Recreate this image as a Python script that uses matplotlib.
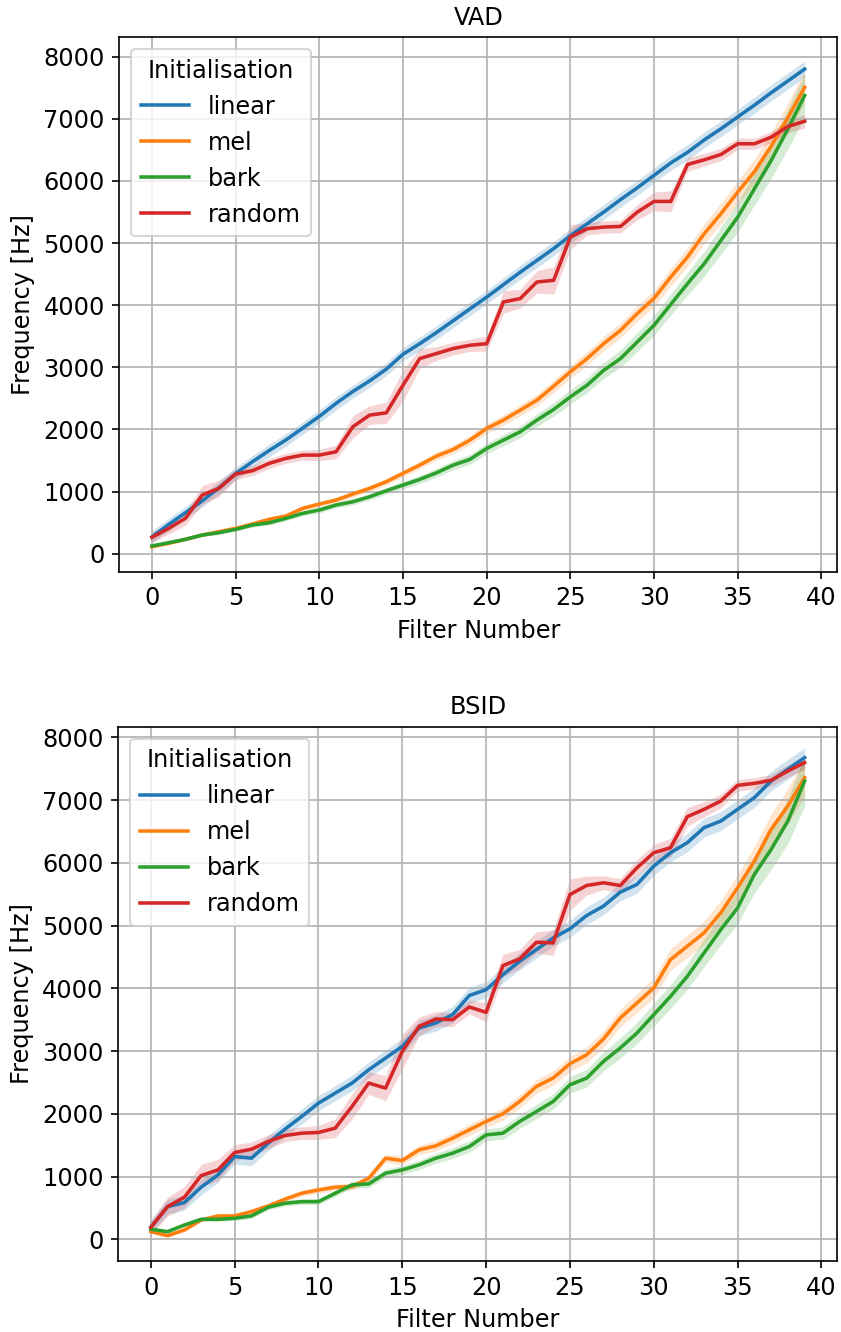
import matplotlib
matplotlib.use("Agg")
import matplotlib.pyplot as plt
import numpy as np

filters = list(range(40))
init_names = ["linear", "mel", "bark", "random"]
init_colors = ["tab:blue", "tab:orange", "tab:green", "tab:red"]

# VAD: mean centre frequency per filter and half-width of the confidence band
linear_vad = [270, 470, 660, 850, 1060, 1290, 1480, 1660, 1830, 2020,
              2210, 2420, 2610, 2780, 2970, 3210, 3380, 3560, 3750, 3940,
              4130, 4330, 4530, 4720, 4910, 5120, 5310, 5500, 5700, 5890,
              6090, 6290, 6460, 6660, 6840, 7030, 7220, 7420, 7610, 7800]
mel_vad = [113, 167, 231, 300, 354, 408, 477, 553, 606, 729,
           799, 863, 960, 1051, 1158, 1293, 1426, 1571, 1678, 1828,
           2016, 2150, 2310, 2471, 2696, 2927, 3141, 3383, 3596, 3865,
           4110, 4453, 4775, 5151, 5473, 5820, 6150, 6560, 7020, 7508]
bark_vad = [124, 177, 231, 300, 338, 392, 461, 498, 569, 649,
            703, 783, 836, 916, 1013, 1104, 1196, 1302, 1426, 1518,
            1694, 1828, 1962, 2150, 2321, 2524, 2712, 2953, 3141, 3409,
            3677, 4013, 4347, 4668, 5043, 5418, 5874, 6330, 6839, 7375]
random_vad = [263, 408, 569, 944, 1051, 1281, 1335, 1453, 1534, 1587,
              1587, 1640, 2042, 2230, 2267, 2712, 3141, 3222, 3302, 3355,
              3380, 4052, 4106, 4373, 4400, 5096, 5231, 5257, 5268, 5498,
              5670, 5670, 6265, 6340, 6426, 6598, 6598, 6705, 6876, 6961]

linear_vad_ci = [100, 100, 100, 100, 100, 100, 100, 100, 100, 100,
                 105, 105, 105, 105, 105, 110, 110, 110, 110, 110,
                 110, 110, 115, 115, 115, 115, 115, 120, 120, 120,
                 120, 120, 125, 125, 125, 125, 130, 130, 130, 130]
mel_vad_ci = [20, 20, 25, 25, 30, 30, 35, 35, 40, 40,
              45, 45, 50, 50, 55, 60, 60, 65, 70, 75,
              80, 85, 90, 95, 100, 105, 110, 115, 120, 125,
              130, 140, 150, 160, 170, 185, 200, 220, 240, 260]
bark_vad_ci = [20, 20, 25, 25, 30, 30, 35, 35, 40, 40,
               45, 45, 50, 50, 55, 60, 65, 70, 75, 80,
               85, 90, 95, 100, 110, 115, 120, 130, 140, 150,
               160, 170, 185, 200, 220, 240, 260, 290, 320, 350]
random_vad_ci = [80, 90, 110, 150, 130, 90, 80, 80, 80, 80,
                 90, 110, 180, 150, 170, 250, 160, 110, 100, 100,
                 120, 180, 150, 180, 220, 200, 100, 100, 100, 120,
                 150, 170, 110, 100, 100, 90, 90, 90, 100, 110]

# BSID
linear_bsid = [191, 521, 585, 830, 1026, 1319, 1292, 1532, 1755, 1957,
               2170, 2330, 2489, 2702, 2888, 3074, 3367, 3447, 3580, 3885,
               3978, 4217, 4430, 4617, 4803, 4947, 5160, 5309, 5532, 5655,
               5947, 6160, 6320, 6559, 6665, 6851, 7038, 7303, 7490, 7676]
mel_bsid = [122, 58, 149, 308, 372, 372, 441, 532, 638, 734,
            787, 830, 840, 973, 1292, 1255, 1425, 1489, 1611, 1744,
            1877, 2000, 2196, 2435, 2569, 2797, 2941, 3191, 3526, 3766,
            4005, 4457, 4670, 4883, 5202, 5601, 6026, 6532, 6904, 7357]
bark_bsid = [160, 122, 228, 319, 319, 335, 372, 511, 574, 600,
             600, 734, 867, 883, 1053, 1106, 1186, 1292, 1372, 1478,
             1664, 1691, 1877, 2036, 2196, 2462, 2569, 2834, 3048, 3287,
             3579, 3871, 4190, 4563, 4935, 5281, 5813, 6212, 6665, 7303]
random_bsid = [191, 521, 670, 1015, 1106, 1382, 1436, 1558, 1654, 1691,
               1702, 1771, 2116, 2489, 2409, 2994, 3393, 3510, 3500, 3702,
               3616, 4361, 4468, 4734, 4723, 5494, 5638, 5681, 5638, 5920,
               6160, 6240, 6734, 6851, 6984, 7234, 7266, 7314, 7463, 7596]

linear_bsid_ci = [110, 120, 120, 120, 120, 120, 120, 120, 120, 120,
                  120, 120, 125, 125, 125, 125, 125, 130, 130, 130,
                  130, 130, 135, 135, 135, 135, 140, 140, 140, 140,
                  145, 145, 145, 150, 150, 150, 155, 155, 160, 160]
mel_bsid_ci = [25, 25, 30, 30, 35, 35, 40, 40, 45, 45,
               50, 50, 55, 60, 65, 70, 75, 80, 85, 90,
               95, 100, 105, 110, 115, 120, 125, 130, 140, 150,
               160, 170, 180, 190, 200, 215, 230, 250, 280, 300]
bark_bsid_ci = [25, 25, 30, 30, 35, 35, 40, 40, 45, 45,
                50, 50, 55, 60, 65, 70, 75, 80, 85, 90,
                95, 100, 110, 115, 120, 130, 140, 150, 160, 170,
                180, 190, 205, 220, 240, 260, 290, 320, 360, 400]
random_bsid_ci = [110, 150, 170, 180, 170, 130, 110, 110, 100, 100,
                  110, 150, 200, 180, 200, 280, 150, 120, 110, 110,
                  150, 180, 150, 170, 200, 250, 150, 110, 110, 130,
                  130, 150, 150, 120, 110, 90, 90, 90, 100, 110]

panels = [
    ("VAD", [linear_vad, mel_vad, bark_vad, random_vad],
     [linear_vad_ci, mel_vad_ci, bark_vad_ci, random_vad_ci], (-290, 8312)),
    ("BSID", [linear_bsid, mel_bsid, bark_bsid, random_bsid],
     [linear_bsid_ci, mel_bsid_ci, bark_bsid_ci, random_bsid_ci], (-346, 8170)),
]

plt.rcParams["font.size"] = 11.5
fig = plt.figure(figsize=(841 / 150, 1332 / 150), dpi=150)
rects = [[0.1419, 0.5708, 0.8537, 0.4012], [0.1405, 0.0533, 0.8551, 0.4012]]

x = np.array(filters)
for rect, (title, series, cis, ylim) in zip(rects, panels):
    ax = fig.add_axes(rect)
    for name, color, y, ci in zip(init_names, init_colors, series, cis):
        y = np.array(y, dtype=float)
        ci = np.array(ci, dtype=float)
        ax.fill_between(x, y - ci, y + ci, color=color, alpha=0.2, linewidth=0)
        ax.plot(x, y, color=color, linewidth=1.7, label=name)
    ax.set_xlim(-1.95, 40.95)
    ax.set_ylim(*ylim)
    ax.set_xticks(range(0, 41, 5))
    ax.set_yticks(range(0, 8001, 1000))
    ax.grid(True)
    ax.set_title(title, fontsize=11.5)
    ax.set_xlabel("Filter Number")
    ax.set_ylabel("Frequency [Hz]")
    ax.legend(loc="upper left", title="Initialisation")

fig.savefig("out.png", dpi=150)
